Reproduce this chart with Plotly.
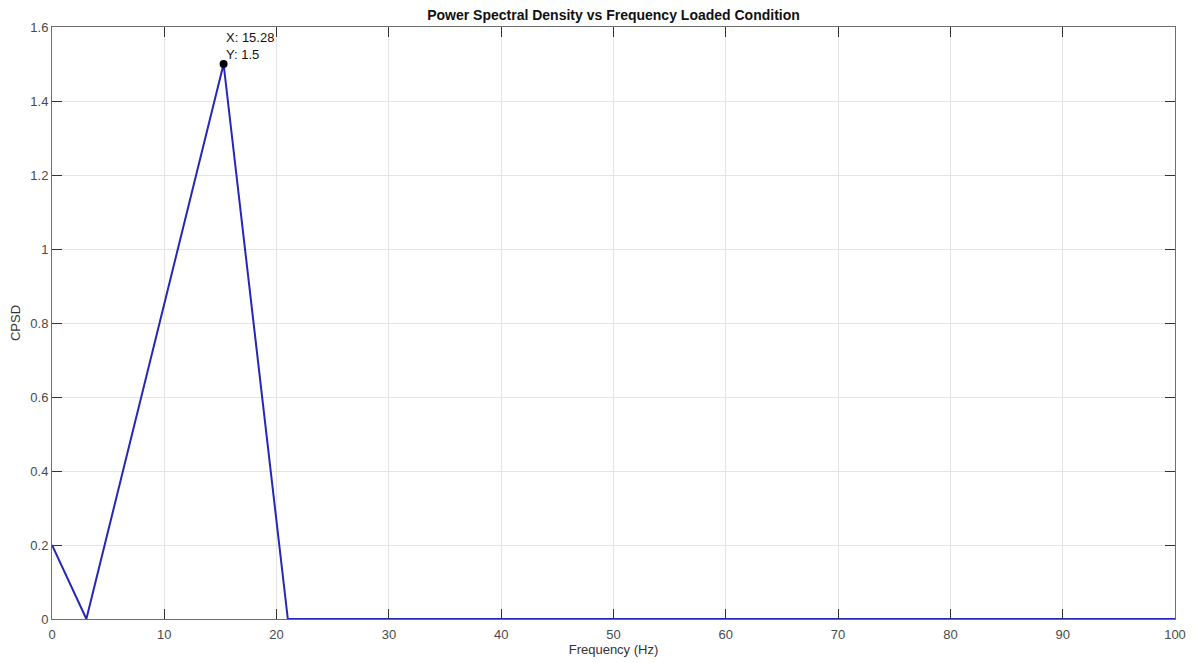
import plotly.graph_objects as go

freq = [0, 3.06, 15.28, 21.0, 100]
cpsd = [0.2, 0.0, 1.5, 0.0, 0.0]
peak_x = [15.28]
peak_y = [1.5]
x_ticks = [0, 10, 20, 30, 40, 50, 60, 70, 80, 90, 100]
y_ticks = [0, 0.2, 0.4, 0.6, 0.8, 1, 1.2, 1.4, 1.6]
y_ticktext = ["0", "0.2", "0.4", "0.6", "0.8", "1", "1.2", "1.4", "1.6"]

FONT = "Liberation Sans, Arial"

fig = go.Figure()
fig.add_trace(go.Scatter(x=freq, y=cpsd, mode="lines",
                         line=dict(color="#2626b8", width=2), showlegend=False))
fig.add_trace(go.Scatter(x=peak_x, y=peak_y, mode="markers",
                         marker=dict(color="black", size=8), showlegend=False))

fig.add_annotation(x=peak_x[0], y=peak_y[0], xref="x", yref="y",
                   text=f"X: {peak_x[0]}<br>Y: {peak_y[0]}", showarrow=False,
                   xanchor="left", yanchor="bottom", align="left",
                   xshift=0, yshift=0,
                   font=dict(family=FONT, size=13, color="#111"))

axis_common = dict(showline=True, linecolor="#6e6e6e", linewidth=1, mirror="ticks",
                   ticks="inside", ticklen=10, tickcolor="#333", tickwidth=1,
                   showgrid=True, gridcolor="#e4e4e4", gridwidth=1, zeroline=False,
                   automargin=False,
                   tickfont=dict(family=FONT, size=13, color="#4a4a4a"))

fig.update_layout(
    width=1201, height=663,
    margin=dict(l=52, r=26, t=27, b=44),
    paper_bgcolor="white", plot_bgcolor="white",
    title=dict(text="<b>Power Spectral Density vs Frequency Loaded Condition</b>",
               x=0.5, xref="paper", y=1 - 15 / 663, yanchor="middle",
               font=dict(family=FONT, size=14, color="#111")),
    xaxis=dict(range=[0, 100], tickvals=x_ticks, ticklabelstandoff=3,
               title=dict(text="Frequency (Hz)", standoff=3,
                          font=dict(family=FONT, size=13, color="#333")),
               **axis_common),
    yaxis=dict(range=[0, 1.6], tickvals=y_ticks, ticktext=y_ticktext,
               title=dict(text="CPSD", standoff=6,
                          font=dict(family=FONT, size=13, color="#333")),
               **axis_common),
)

fig.write_html("out.html")
